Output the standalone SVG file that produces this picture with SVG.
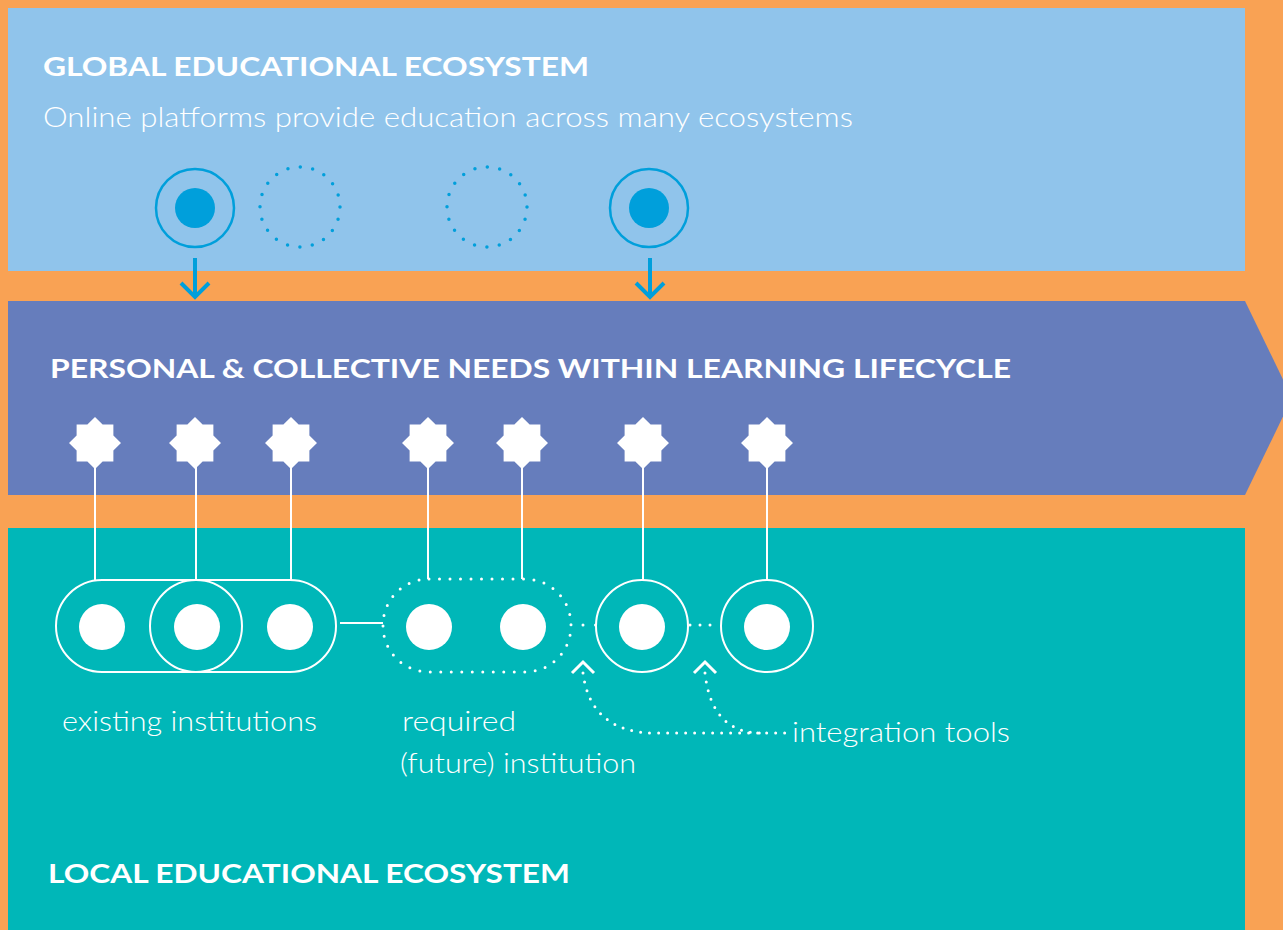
<svg xmlns="http://www.w3.org/2000/svg" xmlns:xlink="http://www.w3.org/1999/xlink" width="1283" height="930" viewBox="0 0 1283 930">
<style>
.title{font-family:Lato,"Liberation Sans",sans-serif;font-weight:700;fill:#fff;font-size:27px}
.light{font-family:Lato,"Liberation Sans",sans-serif;font-weight:300;fill:#fff;font-size:27px}
.bl{stroke:#009FDB;fill:none}
.wl{stroke:#fff;fill:none;stroke-width:2}
.dots{stroke:#fff;fill:none;stroke-width:3;stroke-linecap:round}
.wdot{fill:#fff}
</style>
<defs>
<polygon id="star" fill="#fff" points="26,0 18.39,7.62 18.38,18.38 7.62,18.39 0,26 -7.62,18.39 -18.38,18.38 -18.39,7.62 -26,0 -18.39,-7.62 -18.38,-18.38 -7.62,-18.39 0,-26 7.62,-18.39 18.38,-18.38 18.39,-7.62"/>
</defs>
<rect x="0" y="0" width="1283" height="930" fill="#F9A254"/>
<g id="global-band">
<rect x="8" y="8" width="1237" height="263" fill="#90C4EB"/>
<text class="title" x="43" y="76" font-size="28" textLength="546" lengthAdjust="spacingAndGlyphs">GLOBAL EDUCATIONAL ECOSYSTEM</text>
<text class="light" x="43" y="127" font-size="28" textLength="810" lengthAdjust="spacingAndGlyphs">Online platforms provide education across many ecosystems</text>
</g>
<g id="personal-band">
<polygon points="8,301 1245,301 1292,398 1245,495 8,495" fill="#667DBC"/>
<text class="title" x="50" y="378" textLength="961" lengthAdjust="spacingAndGlyphs">PERSONAL &amp; COLLECTIVE NEEDS WITHIN LEARNING LIFECYCLE</text>
</g>
<g id="local-band">
<rect x="8" y="528" width="1237" height="402" fill="#00B7B8"/>
<text class="title" x="48" y="883" textLength="522" lengthAdjust="spacingAndGlyphs">LOCAL EDUCATIONAL ECOSYSTEM</text>
</g>
<g id="platform-1">
<circle class="bl" cx="195" cy="208" r="39" stroke-width="2.5"/>
<circle cx="195" cy="208" r="20" fill="#009FDB"/>
</g>
<g id="platform-2">
<circle class="bl" cx="300" cy="207" r="40" stroke-width="3.5" stroke-linecap="round" stroke-dasharray="0 12.566"/>
</g>
<g id="platform-3">
<circle class="bl" cx="487" cy="207" r="40" stroke-width="3.5" stroke-linecap="round" stroke-dasharray="0 12.566"/>
</g>
<g id="platform-4">
<circle class="bl" cx="649" cy="208" r="39" stroke-width="2.5"/>
<circle cx="649" cy="208" r="20" fill="#009FDB"/>
</g>
<g id="stars">
<use xlink:href="#star" x="95" y="443"/>
<use xlink:href="#star" x="195" y="443"/>
<use xlink:href="#star" x="291" y="443"/>
<use xlink:href="#star" x="428" y="443"/>
<use xlink:href="#star" x="522" y="443"/>
<use xlink:href="#star" x="643" y="443"/>
<use xlink:href="#star" x="767" y="443"/>
</g>
<g id="existing-institutions">
<rect class="wl" x="56" y="580" width="280" height="92" rx="46"/>
<circle class="wl" cx="196" cy="626" r="46"/>
<circle class="wdot" cx="102" cy="627" r="23"/>
<circle class="wdot" cx="197" cy="627" r="23"/>
<circle class="wdot" cx="290" cy="627" r="23"/>
<text class="light" x="62" y="731" textLength="255" lengthAdjust="spacingAndGlyphs">existing institutions</text>
</g>
<g id="required-institution">
<rect class="dots" x="383" y="579" width="188" height="93" rx="46" stroke-dasharray="0 10.5"/>
<circle class="wdot" cx="429" cy="627" r="23"/>
<circle class="wdot" cx="523" cy="627" r="23"/>
<text class="light" x="402" y="731" textLength="114" lengthAdjust="spacingAndGlyphs">required</text>
<text class="light" x="400" y="773" textLength="236" lengthAdjust="spacingAndGlyphs">(future) institution</text>
</g>
<g id="institution-3">
<circle class="wl" cx="642" cy="626" r="46"/>
<circle class="wdot" cx="642" cy="627" r="23"/>
</g>
<g id="institution-4">
<circle class="wl" cx="767" cy="626" r="46"/>
<circle class="wdot" cx="767" cy="627" r="23"/>
</g>
<g id="integration-tools">
<text class="light" x="792" y="742" textLength="218" lengthAdjust="spacingAndGlyphs">integration tools</text>
</g>
<g id="connectors">
<line x1="195" y1="258" x2="195" y2="295" stroke="#009FDB" stroke-width="4"/>
<polyline points="181,283 195,297 209,283" stroke="#009FDB" stroke-width="4" fill="none"/>
<line x1="650" y1="258" x2="650" y2="295" stroke="#009FDB" stroke-width="4"/>
<polyline points="636,283 650,297 664,283" stroke="#009FDB" stroke-width="4" fill="none"/>
<line class="wl" x1="95" y1="466" x2="95" y2="580"/>
<line class="wl" x1="196" y1="466" x2="196" y2="580"/>
<line class="wl" x1="291" y1="466" x2="291" y2="580"/>
<line class="wl" x1="428" y1="466" x2="428" y2="579"/>
<line class="wl" x1="522" y1="466" x2="522" y2="579"/>
<line class="wl" x1="643" y1="466" x2="643" y2="580"/>
<line class="wl" x1="767" y1="466" x2="767" y2="580"/>
<line class="wl" x1="340" y1="623" x2="383" y2="623"/>
<line class="dots" x1="583" y1="625" x2="596" y2="625" stroke-dasharray="0 12.5"/>
<line class="dots" x1="690" y1="625" x2="720" y2="625" stroke-dasharray="0 10"/>
<path class="dots" d="M583,673 C588,712 612,733 655,733 L788,733" stroke-dasharray="0 9"/>
<path class="dots" d="M705,673 C709,712 728,733 760,733" stroke-dasharray="0 9"/>
<polyline points="572,673 583,662 594,673" stroke="#fff" stroke-width="3" fill="none"/>
<polyline points="694,673 705,662 716,673" stroke="#fff" stroke-width="3" fill="none"/>
</g>
</svg>
